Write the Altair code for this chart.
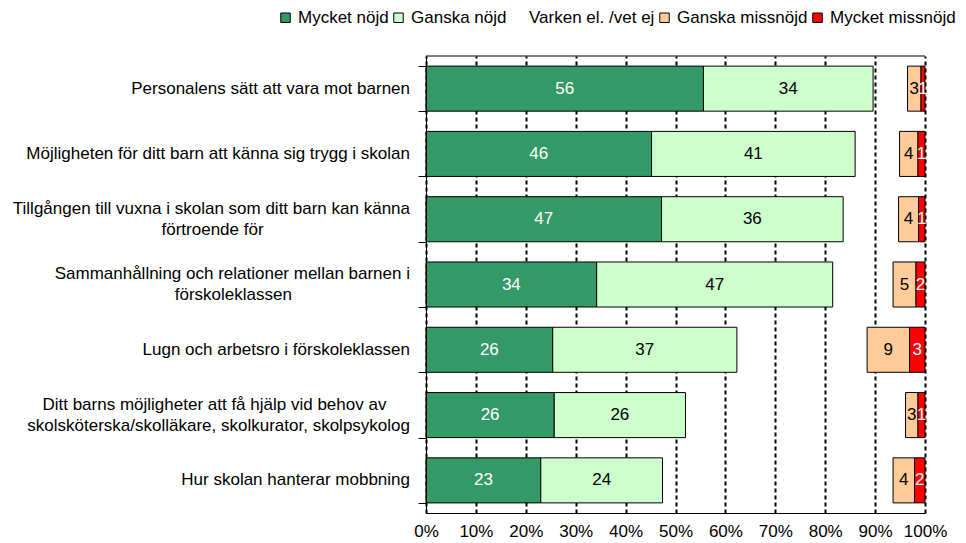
import altair as alt
import pandas as pd

FONT = "Liberation Sans, Arial, sans-serif"
NB = "\u00a0"
WJ = "\u2060"

categories = [
    "Personalens sätt att vara mot barnen",
    "Möjligheten för ditt barn att känna sig trygg i skolan",
    "Tillgången till vuxna i skolan som ditt barn kan känna|förtroende för",
    "Sammanhållning och relationer mellan barnen i|förskoleklassen",
    "Lugn och arbetsro i förskoleklassen",
    "Ditt barns möjligheter att få hjälp vid behov av|skolsköterska/skolläkare, skolkurator, skolpsykolog",
    "Hur skolan hanterar mobbning",
]
series = ["Mycket nöjd", "Ganska nöjd", "Varken el. /vet ej", "Ganska missnöjd", "Mycket missnöjd"]

# bar lengths (percent)
mycket_nojd = [55.6, 45.2, 47.2, 34.2, 25.4, 25.7, 23.0]
ganska_nojd = [34.0, 40.8, 36.4, 47.3, 36.9, 26.3, 24.4]
ganska_missnojd = [2.7, 3.7, 4.0, 4.6, 8.5, 2.5, 4.3]
mycket_missnojd = [0.8, 1.4, 1.3, 1.8, 3.1, 1.4, 2.1]

# printed labels
mycket_nojd_lbl = [56, 46, 47, 34, 26, 26, 23]
ganska_nojd_lbl = [34, 41, 36, 47, 37, 26, 24]
ganska_missnojd_lbl = [3, 4, 4, 5, 9, 3, 4]
mycket_missnojd_lbl = [1, 1, 1, 2, 3, 1, 2]

fill_colors = ["#339966", "#CCFFCC", "transparent", "#FFCC99", "#FF0000"]
stroke_colors = ["#000000", "#000000", "transparent", "#000000", "#000000"]

# trailing no-break spaces so that right-aligned wrapped lines look centred
line_fill = {
    "förtroende för": 31,
    "förskoleklassen": 25,
    "Ditt barns möjligheter att få hjälp vid behov av": 5,
}


def axis_text(cat):
    parts = cat.split("|")
    out = []
    for p in parts:
        n = line_fill.get(p, 0)
        out.append(p + (NB * n + WJ if n else ""))
    return "|".join(out)


rows = []
for i, cat in enumerate(categories):
    varken = 100 - (mycket_nojd[i] + ganska_nojd[i] + ganska_missnojd[i] + mycket_missnojd[i])
    vals = [mycket_nojd[i], ganska_nojd[i], varken, ganska_missnojd[i], mycket_missnojd[i]]
    lbls = [mycket_nojd_lbl[i], ganska_nojd_lbl[i], "", ganska_missnojd_lbl[i], mycket_missnojd_lbl[i]]
    for j, s in enumerate(series):
        rows.append({"cat": axis_text(cat), "series": s, "idx": j, "value": vals[j], "label": str(lbls[j])})
df = pd.DataFrame(rows)
cat_order = [axis_text(c) for c in categories]
cat_df = pd.DataFrame({"cat": cat_order})

y_axis = alt.Axis(
    title=None, grid=False, domainColor="black", domainWidth=1,
    ticks=True, tickColor="black", tickSize=8, tickBand="extent",
    labels=False, zindex=1,
)
y_scale = alt.Scale(paddingInner=0.31, paddingOuter=0.155)
y_enc = alt.Y("cat:N", sort=cat_order, scale=y_scale, axis=y_axis)

x_axis = alt.Axis(
    title=None, values=list(range(0, 101, 10)), labelExpr="datum.value + '%'",
    grid=True, gridColor="black", gridDash=[4, 3], gridWidth=2,
    domainColor="black", ticks=True, tickSize=0, labelPadding=10,
    labelFont=FONT, labelFontSize=17, labelColor="black", labelFlush=False, labelOverlap=False,
)
x_scale = alt.Scale(domain=[0, 100], nice=False)

base = alt.Chart(df).transform_stack(
    stack="value", groupby=["cat"], as_=["x0", "x1"],
    sort=[alt.SortField("idx", order="ascending")],
).transform_calculate(mid="(datum.x0 + datum.x1) / 2")

legend = alt.Legend(
    title=None, orient="none", legendX=-149, legendY=-47, direction="horizontal",
    symbolType="square", symbolSize=90, symbolStrokeWidth=1,
    labelFont=FONT, labelFontSize=17, labelColor="black", labelLimit=0,
    labelOffset=4, columnPadding=1, padding=0,
)

bars = base.mark_bar(strokeWidth=1).encode(
    y=y_enc,
    x=alt.X("x0:Q", scale=x_scale, axis=x_axis),
    x2="x1:Q",
    fill=alt.Fill("series:N", scale=alt.Scale(domain=series, range=fill_colors), legend=legend),
    stroke=alt.Stroke("series:N", scale=alt.Scale(domain=series, range=stroke_colors), legend=legend),
)

texts = base.transform_filter("datum.label != ''").mark_text(
    font=FONT, fontSize=17, align="center", baseline="middle"
).encode(
    y=y_enc,
    x=alt.X("mid:Q", scale=x_scale, axis=x_axis),
    text="label:N",
    color=alt.condition(
        "datum.series == 'Mycket nöjd' || datum.series == 'Mycket missnöjd'",
        alt.value("white"), alt.value("black"),
    ),
)

cat_base = alt.Chart(cat_df).transform_calculate(
    lines="split(datum.cat, '|')", nlines="length(split(datum.cat, '|'))"
)
cat_single = cat_base.transform_filter("datum.nlines == 1").mark_text(
    font=FONT, fontSize=17, align="right", baseline="middle", color="black"
).encode(y=y_enc, x=alt.value(-16), text=alt.Text("lines:N"))
cat_double = cat_base.transform_filter("datum.nlines == 2").mark_text(
    font=FONT, fontSize=17, align="right", baseline="middle", color="black",
    lineHeight=21, dy=-10.5,
).encode(y=y_enc, x=alt.value(-16), text=alt.Text("lines:N"))

frame = alt.Chart(pd.DataFrame({"v": [0]})).mark_rule(color="black", strokeWidth=1).encode(
    x=alt.datum(0), x2=alt.datum(100), y=alt.value(0)
)

chart = alt.layer(bars, texts, cat_single, cat_double, frame).properties(
    width=499, height=457,
    padding={"left": 418, "top": 48, "right": 33, "bottom": 28},
    autosize=alt.AutoSizeParams(type="none"),
).configure_view(stroke=None)

chart.save("out.html", embed_options={"renderer": "svg", "actions": False})
